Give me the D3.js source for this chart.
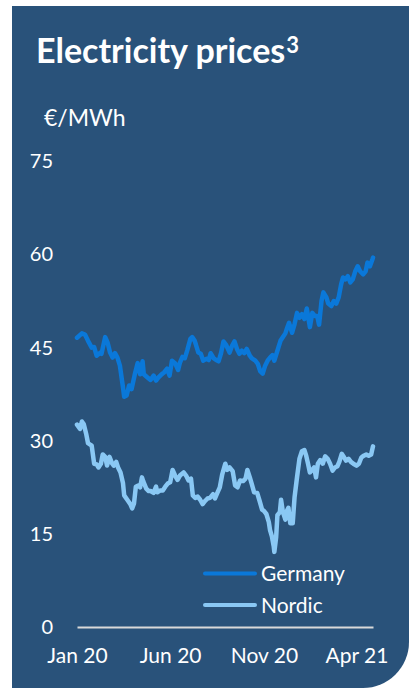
<!DOCTYPE html>
<html>
<head>
<meta charset="utf-8">
<script src="https://cdn.jsdelivr.net/npm/d3@7"></script>
<style>
  html, body { margin: 0; padding: 0; background: #ffffff; }
  svg { display: block; }
  text { font-family: Lato, "Open Sans", sans-serif; fill: #ffffff; }
</style>
</head>
<body>
<svg id="chart" width="409" height="688"></svg>
<script>
// ---- DATA ----
const titleText = "Electricity prices";
const titleSup = "3";
const unitLabel = "€/MWh";
const seriesNames = ["Germany", "Nordic"];
const seriesColors = ["#0a78d9", "#8ac8f4"];
const yTicks = [0, 15, 30, 45, 60, 75];
const xTickDates = ["2020-01-01", "2020-06-01", "2020-11-01", "2021-04-01"];
const xTickLabels = ["Jan 20", "Jun 20", "Nov 20", "Apr 21"];
const xDomain = ["2020-01-01", "2021-04-28"];

const germanyDates = [
"2020-01-01","2020-01-09","2020-01-14","2020-01-19","2020-01-25","2020-01-29","2020-02-02","2020-02-08","2020-02-10","2020-02-16",
"2020-02-20","2020-02-24","2020-02-28","2020-03-03","2020-03-07","2020-03-11","2020-03-16","2020-03-18","2020-03-22","2020-03-26",
"2020-03-30","2020-04-05","2020-04-09","2020-04-13","2020-04-17","2020-04-19","2020-04-25","2020-04-30","2020-05-05","2020-05-09",
"2020-05-13","2020-05-18","2020-05-22","2020-05-27","2020-05-31","2020-06-04","2020-06-09","2020-06-14","2020-06-17","2020-06-21",
"2020-06-25","2020-06-29","2020-07-04","2020-07-07","2020-07-11","2020-07-13","2020-07-17","2020-07-21","2020-07-25","2020-07-30",
"2020-08-03","2020-08-06","2020-08-11","2020-08-15","2020-08-19","2020-08-23","2020-08-27","2020-08-31","2020-09-06","2020-09-10",
"2020-09-14","2020-09-18","2020-09-22","2020-09-26","2020-09-30","2020-10-04","2020-10-09","2020-10-12","2020-10-18","2020-10-22",
"2020-10-26","2020-10-30","2020-11-03","2020-11-07","2020-11-11","2020-11-15","2020-11-18","2020-11-23","2020-11-28","2020-12-02",
"2020-12-06","2020-12-09","2020-12-12","2020-12-17","2020-12-21","2020-12-25","2020-12-29","2021-01-02","2021-01-06","2021-01-10",
"2021-01-15","2021-01-19","2021-01-23","2021-01-27","2021-01-30","2021-02-03","2021-02-06","2021-02-11","2021-02-14","2021-02-19",
"2021-02-23","2021-02-27","2021-03-03","2021-03-07","2021-03-10","2021-03-14","2021-03-18","2021-03-22","2021-03-26","2021-03-30",
"2021-04-03","2021-04-07","2021-04-12","2021-04-16","2021-04-19","2021-04-23","2021-04-27","2021-04-28"];
const germanyValues = [
46.6,47.3,47.1,46.1,45.0,45.1,43.7,44.2,44.0,46.7,
45.8,44.2,43.4,44.1,43.4,42.1,38.6,37.1,37.3,38.9,
38.3,41.0,42.5,40.7,42.8,40.7,40.2,39.8,40.5,39.7,
40.2,40.7,41.0,41.6,40.5,42.9,42.5,41.4,42.6,43.5,
43.3,44.6,46.4,46.7,46.1,45.5,44.2,44.0,42.9,43.2,
43.0,44.1,43.3,43.0,42.8,44.1,46.0,45.5,44.2,45.3,
46.0,44.8,44.0,44.5,44.1,44.8,43.7,43.3,42.9,42.4,
41.2,40.8,42.1,42.9,43.4,43.8,42.9,44.5,46.1,46.7,
47.3,48.2,49.0,47.4,48.8,50.6,49.8,50.4,49.6,51.3,
48.3,50.6,50.1,50.1,48.7,52.5,53.9,53.1,52.1,51.7,
52.5,52.1,53.1,55.2,56.3,56.0,56.5,55.5,56.0,57.3,
58.1,57.3,56.8,57.3,58.7,58.1,59.2,59.5];

const nordicDates = [
"2020-01-01","2020-01-06","2020-01-09","2020-01-12","2020-01-16","2020-01-19","2020-01-25","2020-01-29","2020-02-02","2020-02-05",
"2020-02-09","2020-02-12","2020-02-16","2020-02-19","2020-02-23","2020-02-27","2020-03-01","2020-03-05","2020-03-08","2020-03-12",
"2020-03-16","2020-03-18","2020-03-23","2020-03-28","2020-03-31","2020-04-03","2020-04-06","2020-04-10","2020-04-13","2020-04-16",
"2020-04-18","2020-04-23","2020-04-27","2020-04-30","2020-05-05","2020-05-09","2020-05-11","2020-05-16","2020-05-20","2020-05-24",
"2020-05-28","2020-06-01","2020-06-05","2020-06-09","2020-06-13","2020-06-17","2020-06-23","2020-06-27","2020-07-01","2020-07-05",
"2020-07-08","2020-07-12","2020-07-16","2020-07-20","2020-07-24","2020-07-28","2020-08-01","2020-08-05","2020-08-10","2020-08-13",
"2020-08-17","2020-08-21","2020-08-25","2020-08-30","2020-09-02","2020-09-06","2020-09-11","2020-09-15","2020-09-19","2020-09-23",
"2020-09-28","2020-10-02","2020-10-05","2020-10-09","2020-10-12","2020-10-16","2020-10-21","2020-10-25","2020-10-29","2020-11-01",
"2020-11-05","2020-11-09","2020-11-11","2020-11-14","2020-11-17","2020-11-18","2020-11-21","2020-11-23","2020-11-27","2020-11-29",
"2020-12-02","2020-12-06","2020-12-09","2020-12-11","2020-12-14","2020-12-18","2020-12-21","2020-12-25","2020-12-29","2021-01-02",
"2021-01-06","2021-01-09","2021-01-12","2021-01-15","2021-01-19","2021-01-22","2021-01-25","2021-01-28","2021-02-01","2021-02-05",
"2021-02-09","2021-02-13","2021-02-17","2021-02-21","2021-02-25","2021-03-01","2021-03-04","2021-03-08","2021-03-12","2021-03-15",
"2021-03-19","2021-03-23","2021-03-27","2021-04-01","2021-04-05","2021-04-09","2021-04-13","2021-04-17","2021-04-21","2021-04-25","2021-04-28"];
const nordicValues = [
32.6,31.9,33.1,32.7,31.1,29.6,29.2,26.3,26.2,25.7,
26.3,27.8,27.4,26.0,27.4,26.4,26.0,26.6,25.7,24.9,
23.2,21.2,20.5,19.8,19.1,19.9,22.6,22.8,22.5,24.1,
23.5,22.3,21.9,21.9,21.6,22.6,21.7,22.0,22.0,22.6,
23.1,23.3,25.3,24.4,23.7,24.4,24.9,24.4,23.6,23.9,
21.2,20.8,21.0,20.5,19.8,20.3,20.7,20.8,21.4,20.7,
21.6,22.5,24.6,26.3,25.3,25.7,25.1,22.8,22.5,23.6,
23.5,23.9,25.3,24.1,23.1,21.7,21.6,20.3,18.9,18.7,
18.2,16.9,15.6,14.6,13.0,12.1,14.5,18.0,18.5,20.5,
18.5,17.3,18.8,19.2,16.7,16.7,20.9,24.1,27.1,28.3,
28.5,27.6,26.3,24.9,25.3,25.7,24.1,26.3,26.9,26.3,
27.5,27.1,26.3,25.2,25.7,25.9,26.6,27.9,27.3,26.8,
27.1,26.6,26.3,26.0,26.3,27.3,27.6,27.8,27.6,27.8,29.1];

// ---- CHART ----
const parse = d3.timeParse("%Y-%m-%d");
const svg = d3.select("#chart");
const W = 409, H = 688;

// Panel background with rounded bottom-right corner
const px0 = 12, py0 = 6, px1 = W, py1 = H, r = 46;
const panel = d3.path();
panel.moveTo(px0, py0);
panel.lineTo(px1, py0);
panel.lineTo(px1, py1 - r);
panel.arcTo(px1, py1, px1 - r, py1, r);
panel.lineTo(px0, py1);
panel.closePath();
svg.append("path").attr("d", panel.toString()).attr("fill", "#29527a");

// Title
const title = svg.append("text")
  .attr("x", 36).attr("y", 63)
  .style("font-size", "34px").style("font-weight", "700");
title.append("tspan").text(titleText);
title.append("tspan").text(titleSup)
  .style("font-size", "22px").style("font-weight", "700").attr("dy", -10).attr("dx", 1);

// Unit label
svg.append("text").attr("x", 44).attr("y", 126)
  .style("font-size", "23px").text(unitLabel);

// Scales
const x = d3.scaleTime().domain(xDomain.map(parse)).range([77, 373]);
const y = d3.scaleLinear().domain([0, 75]).range([627, 161.4]);

// Y axis labels (no line)
const yAxis = d3.axisLeft(y).tickValues(yTicks).tickSize(0).tickPadding(0);
const gy = svg.append("g").attr("transform", "translate(53,0)").call(yAxis);
gy.select(".domain").remove();
gy.selectAll("text").style("font-size", "20px").style("font-family", "Lato, sans-serif").attr("fill", "#ffffff");

// X axis
const xAxis = d3.axisBottom(x)
  .tickValues(xTickDates.map(parse))
  .tickFormat((d, i) => xTickLabels[i])
  .tickSize(0).tickSizeOuter(0).tickPadding(21);
const gx = svg.append("g").attr("transform", "translate(0," + y(0) + ")").call(xAxis);
gx.select(".domain").attr("stroke", "#d9d9d9").attr("stroke-width", 2);
gx.selectAll("text").style("font-size", "21px").style("font-family", "Lato, sans-serif").attr("fill", "#ffffff");

// Lines
const series = [
  { name: seriesNames[0], color: seriesColors[0], data: germanyDates.map((d, i) => ({ date: parse(d), value: germanyValues[i] })) },
  { name: seriesNames[1], color: seriesColors[1], data: nordicDates.map((d, i) => ({ date: parse(d), value: nordicValues[i] })) }
];
const line = d3.line().x(d => x(d.date)).y(d => y(d.value));
series.forEach(s => {
  svg.append("path").datum(s.data)
    .attr("d", line)
    .attr("fill", "none")
    .attr("stroke", s.color)
    .attr("stroke-width", 4.5)
    .attr("stroke-linejoin", "round")
    .attr("stroke-linecap", "round");
});

// Legend
const legend = svg.append("g");
series.forEach((s, i) => {
  const ly = 573.5 + i * 31.5;
  legend.append("line")
    .attr("x1", 205).attr("x2", 255).attr("y1", ly).attr("y2", ly)
    .attr("stroke", s.color).attr("stroke-width", 4).attr("stroke-linecap", "round");
  legend.append("text").attr("x", 261).attr("y", ly + 7.5)
    .style("font-size", "21px").text(s.name);
});
</script>
</body>
</html>
